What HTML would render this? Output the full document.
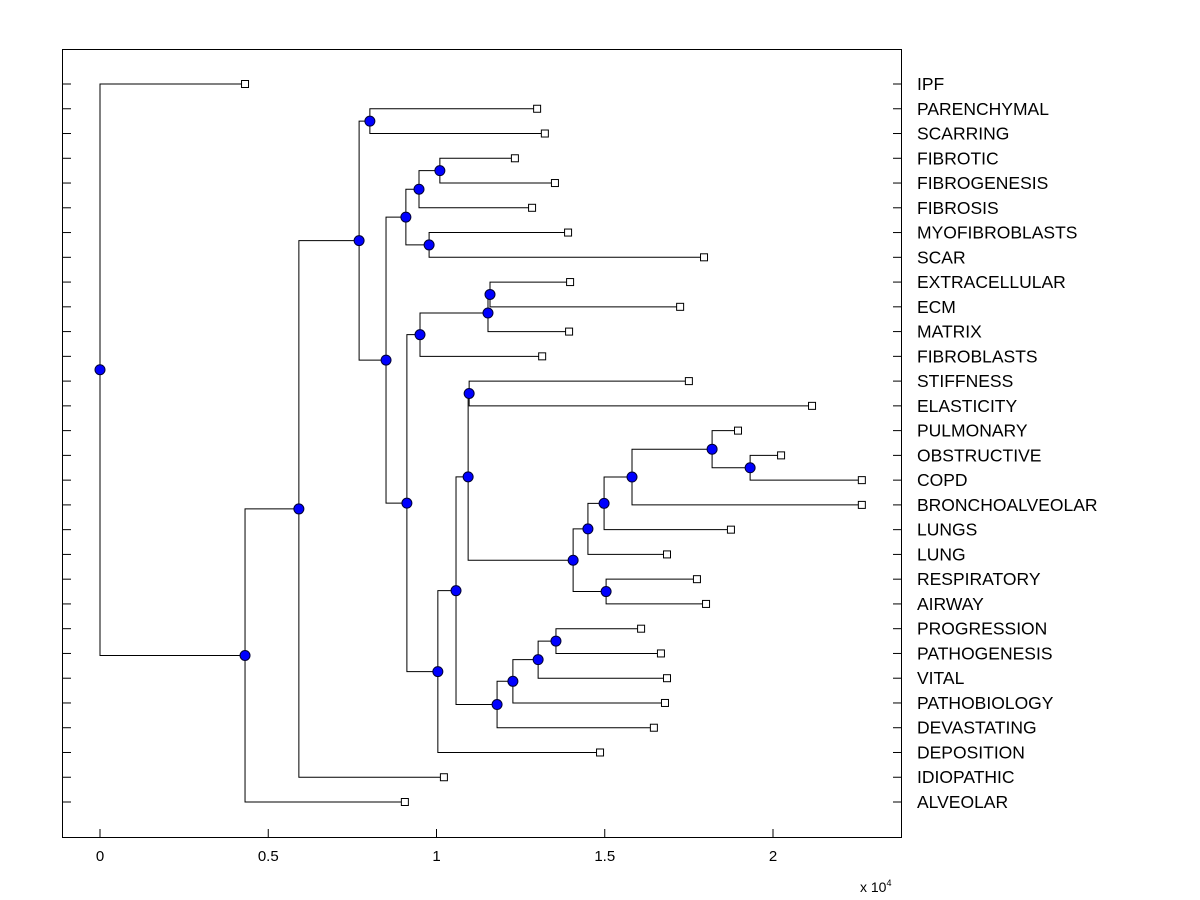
<!DOCTYPE html>
<html><head><meta charset="utf-8"><style>
body{margin:0;background:#fff;}
svg{display:block;font-family:"Liberation Sans",Arial,sans-serif;}
</style></head><body>
<svg id="chart" width="1200" height="900" xmlns="http://www.w3.org/2000/svg">
<rect x="0" y="0" width="1200" height="900" fill="#fff"/>
<rect x="62.5" y="49.5" width="839" height="788" fill="none" stroke="#000" stroke-width="1"/>
<g id="links"></g><g id="marks"></g><g id="ticks"></g>
<text x="860" y="892" font-size="14">x 10<tspan font-size="9" dy="-6">4</tspan></text>
</svg>
<script>
// leaf labels and leaf heights (x 10^4)
const leafNames = ["IPF","PARENCHYMAL","SCARRING","FIBROTIC","FIBROGENESIS","FIBROSIS","MYOFIBROBLASTS","SCAR","EXTRACELLULAR","ECM","MATRIX","FIBROBLASTS","STIFFNESS","ELASTICITY","PULMONARY","OBSTRUCTIVE","COPD","BRONCHOALVEOLAR","LUNGS","LUNG","RESPIRATORY","AIRWAY","PROGRESSION","PATHOGENESIS","VITAL","PATHOBIOLOGY","DEVASTATING","DEPOSITION","IDIOPATHIC","ALVEOLAR"];
const leafValues = [0.431,1.299,1.322,1.233,1.352,1.284,1.391,1.795,1.397,1.724,1.394,1.314,1.750,2.116,1.896,2.024,2.264,2.264,1.875,1.685,1.774,1.801,1.608,1.667,1.685,1.679,1.646,1.486,1.022,0.906];
// internal nodes: [name, height, childA, childB]
const nodeNames = ["root","A","B","C","D","E","F","H","J","I","G","K","M","N","L","O","P","R","S","V","W","X","Y","Z","U","Q","AA","AB","AC"];
const nodeValues = [0,0.431,0.591,0.770,0.802,0.850,0.909,0.948,1.010,0.978,0.912,0.951,1.153,1.159,1.004,1.058,1.094,1.097,1.406,1.450,1.498,1.581,1.819,1.932,1.504,1.180,1.227,1.302,1.355];
const nodeChildren = [["IPF","A"],["B","ALVEOLAR"],["C","IDIOPATHIC"],["D","E"],["PARENCHYMAL","SCARRING"],["F","G"],["H","I"],["J","FIBROSIS"],["FIBROTIC","FIBROGENESIS"],["MYOFIBROBLASTS","SCAR"],["K","L"],["M","FIBROBLASTS"],["N","MATRIX"],["EXTRACELLULAR","ECM"],["O","DEPOSITION"],["P","Q"],["R","S"],["STIFFNESS","ELASTICITY"],["V","U"],["W","LUNG"],["X","LUNGS"],["Y","BRONCHOALVEOLAR"],["PULMONARY","Z"],["OBSTRUCTIVE","COPD"],["RESPIRATORY","AIRWAY"],["AA","DEVASTATING"],["AB","PATHOBIOLOGY"],["AC","VITAL"],["PROGRESSION","PATHOGENESIS"]];
const xTicks = [0,0.5,1,1.5,2];
const xTickLabels = ["0","0.5","1","1.5","2"];

const NS="http://www.w3.org/2000/svg";
const X0=100, XS=336.5, Y0=84, YS=(802-84)/29;
const xs=v=>X0+v*XS, ys=i=>Y0+i*YS;
function mk(tag,attrs,parent){const e=document.createElementNS(NS,tag);for(const k in attrs)e.setAttribute(k,attrs[k]);parent.appendChild(e);return e;}
const links=document.getElementById('links'), marks=document.getElementById('marks'), ticks=document.getElementById('ticks'), svg=document.getElementById('chart');
const pos={};
leafNames.forEach((n,i)=>{pos[n]={x:xs(leafValues[i]),y:ys(i)};});
function resolve(n){
  if(pos[n])return pos[n];
  const k=nodeNames.indexOf(n);
  const a=resolve(nodeChildren[k][0]), b=resolve(nodeChildren[k][1]);
  const p={x:xs(nodeValues[k]),y:(a.y+b.y)/2};
  const path=mk('path',{d:`M${a.x},${a.y}H${p.x}V${b.y}H${b.x}`,fill:'none',stroke:'#000','stroke-width':1},links);
  
  
  pos[n]=p;return p;
}
resolve("root");
nodeNames.forEach(n=>{
  const c=mk('circle',{cx:pos[n].x,cy:pos[n].y,r:5,fill:'#0000ff',stroke:'#000033','stroke-width':1},marks);
  
  
});
leafNames.forEach((n,i)=>{
  const p=pos[n];
  const r=mk('rect',{x:p.x-3.5,y:p.y-3.5,width:7,height:7,fill:'#fff',stroke:'#000','stroke-width':1},marks);
  
  
  const t1=mk('line',{x1:62,x2:71,y1:p.y,y2:p.y,stroke:'#000'},ticks);
  
  
  const t2=mk('line',{x1:893,x2:902,y1:p.y,y2:p.y,stroke:'#000'},ticks);
  
  
  const tx=mk('text',{x:917,y:p.y+6,'font-size':17.5},svg);
  tx.textContent=n;
  
  
});
xTicks.forEach((v,i)=>{
  const l=mk('line',{x1:xs(v),x2:xs(v),y1:829,y2:838,stroke:'#000'},ticks);
  
  
  const t=mk('text',{x:xs(v),y:861,'font-size':15,'text-anchor':'middle'},svg);
  t.textContent=xTickLabels[i];
  
  
});
</script>
</body></html>
